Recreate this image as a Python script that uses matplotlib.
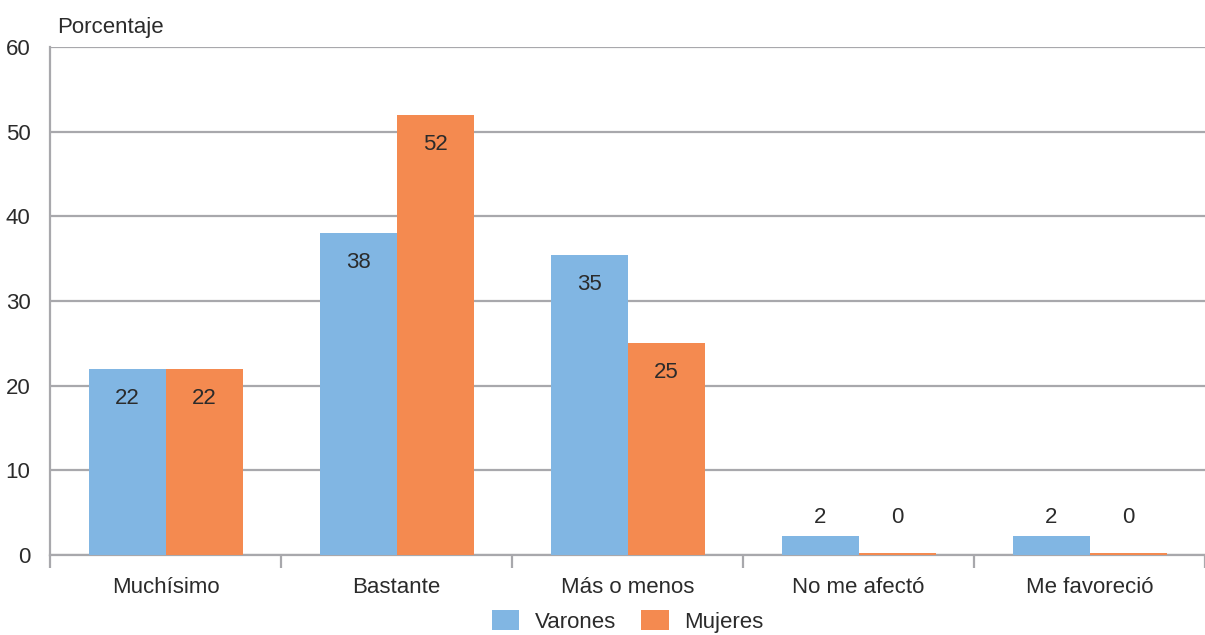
import numpy as np
import matplotlib.pyplot as plt
from matplotlib.ticker import FixedLocator

# Data
categorias = ["Muchísimo", "Bastante", "Más o menos", "No me afectó", "Me favoreció"]
varones = [22.0, 38.0, 35.4, 2.2, 2.2]
mujeres = [22.0, 52.0, 25.0, 0.25, 0.25]
etiquetas_varones = ["22", "38", "35", "2", "2"]
etiquetas_mujeres = ["22", "52", "25", "0", "0"]
yticks = [0, 10, 20, 30, 40, 50, 60]

azul = "#81B6E3"
naranja = "#F48A50"
gris = "#A8A8AC"
texto = "#2B2B2B"

plt.rcParams["font.family"] = ["Liberation Sans", "DejaVu Sans"]

fig = plt.figure(figsize=(12.05, 6.35), dpi=100)
ax = fig.add_axes([50 / 1205, (635 - 555) / 635, 1155 / 1205, (555 - 47) / 635])

x = np.arange(len(categorias))
w = 1 / 3
b1 = ax.bar(x - w / 2, varones, width=w, color=azul, label="Varones", zorder=3)
b2 = ax.bar(x + w / 2, mujeres, width=w, color=naranja, label="Mujeres", zorder=3)

# value labels: inside near the top for tall bars, above the short ones
for bars, labs in ((b1, etiquetas_varones), (b2, etiquetas_mujeres)):
    for rect, lab in zip(bars, labs):
        h = rect.get_height()
        cx = rect.get_x() + rect.get_width() / 2
        if h > 10:
            ax.text(cx, h - 3.5, lab, ha="center", va="center", fontsize=16, color=texto, zorder=4)
        else:
            ax.text(cx, 4.4, lab, ha="center", va="center", fontsize=16, color=texto, zorder=4)

ax.set_xlim(-0.5, len(categorias) - 0.5)
ax.set_ylim(0, 60)
ax.set_yticks(yticks)
ax.grid(axis="y", color=gris, linewidth=1.6, zorder=0)
ax.set_axisbelow(True)

for s in ("top", "right"):
    ax.spines[s].set_visible(False)
for s in ("left", "bottom"):
    ax.spines[s].set_color(gris)
    ax.spines[s].set_linewidth(1.6)

ax.set_xticks(x)
ax.set_xticklabels(categorias)
ax.xaxis.set_minor_locator(FixedLocator(np.arange(-0.5, len(categorias), 1.0)))
ax.tick_params(axis="x", which="major", length=0, pad=16, labelsize=16, labelcolor=texto)
ax.tick_params(axis="x", which="minor", length=9, width=1.6, color=gris, direction="out")
ax.tick_params(axis="y", length=0, pad=14, labelsize=16, labelcolor=texto)

fig.text(57 / 1205, 1 - 27 / 635, "Porcentaje", fontsize=16, color=texto, va="center", ha="left")

ax.legend(loc="upper center", bbox_to_anchor=(0.5, -0.083), ncol=2, frameon=False,
          fontsize=16, handlelength=1.25, handleheight=0.95, columnspacing=1.1,
          handletextpad=0.7, labelcolor=texto, borderpad=0.1)

fig.savefig("out.png", dpi=100)
